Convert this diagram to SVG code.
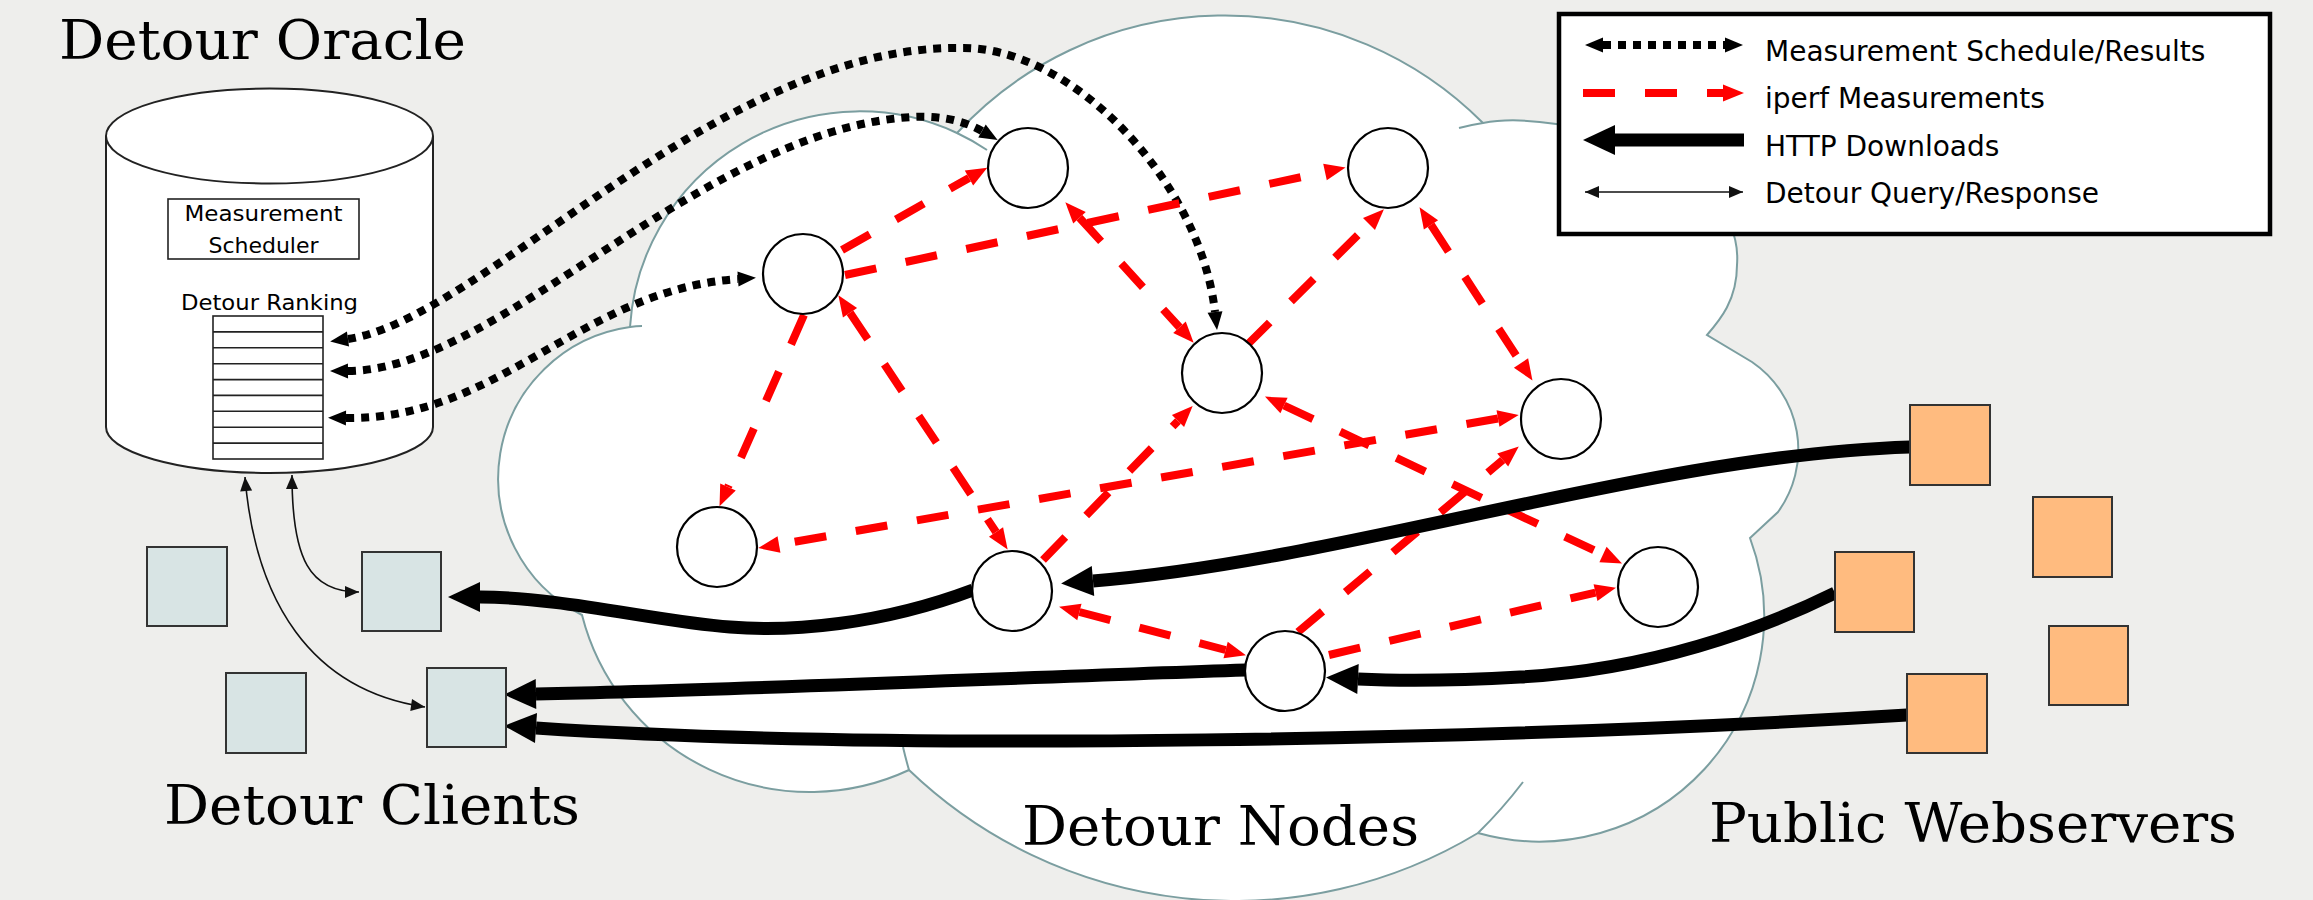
<svg xmlns="http://www.w3.org/2000/svg" width="2313" height="900" viewBox="0 0 2313 900">
<style>
.title{font-family:"DejaVu Serif","Liberation Serif",serif;font-size:55px;fill:#000}
.sans{font-family:"DejaVu Sans","Liberation Sans",sans-serif;fill:#000}
.node{fill:#fff;stroke:#000;stroke-width:2.2}
.client{fill:#d8e4e4;stroke:#333;stroke-width:2}
.server{fill:#ffbb7f;stroke:#333;stroke-width:2}
.dot{fill:none;stroke:#000;stroke-width:8;stroke-dasharray:8 7}
.red{fill:none;stroke:#f00;stroke-width:8;stroke-dasharray:32 30}
.http{fill:none;stroke:#000;stroke-width:13}
.thin{fill:none;stroke:#111;stroke-width:1.6}
.cloud{fill:none;stroke:#7b9ea0;stroke-width:2}
</style>
<defs>
<marker id="mDot" markerUnits="userSpaceOnUse" markerWidth="20" markerHeight="16" refX="0" refY="7.5" orient="auto-start-reverse" overflow="visible"><path d="M0,0 L18,7.5 L0,15 z" fill="#000"/></marker>
<marker id="mRed" markerUnits="userSpaceOnUse" markerWidth="22" markerHeight="18" refX="0" refY="8.5" orient="auto-start-reverse" overflow="visible"><path d="M0,0 L21,8.5 L0,17 z" fill="#f00"/></marker>
<marker id="mHttp" markerUnits="userSpaceOnUse" markerWidth="34" markerHeight="32" refX="0" refY="15" orient="auto-start-reverse" overflow="visible"><path d="M0,0 L32,15 L0,30 z" fill="#000"/></marker>
<marker id="mThin" markerUnits="userSpaceOnUse" markerWidth="16" markerHeight="14" refX="14" refY="6" orient="auto-start-reverse" overflow="visible"><path d="M0,0 L14,6 L0,12 z" fill="#111"/></marker>
</defs>
<rect width="2313" height="900" fill="#eeeeec"/>

<g id="cloud">
<path d="M630,327 A230,230 0 0 1 957,133 A364,364 0 0 1 1483,123 C1560,108 1745,160 1737,265 C1737,300 1720,320 1707,335 L1752,362 A106,106 0 0 1 1778,512 L1750,538 A225,225 0 0 1 1478,833 A470,470 0 0 1 909,770 A235,235 0 0 1 582,615 A153,153 0 0 1 630,327 Z" fill="#fff" stroke="#7b9ea0" stroke-width="2"/>
<path class="cloud" d="M957,133 A230,230 0 0 1 987,150 M1459,128 Q1470,125 1483,123 M1523,782 A470,470 0 0 1 1478,833 M909,770 A470,470 0 0 1 903,747 M630,327 Q636,326 642,326"/>
</g>

<g id="oracle">
<path d="M106,136 L106,427 A163.5,46 0 0 0 433,427 L433,136" fill="#fff" stroke="#222" stroke-width="2"/>
<ellipse cx="269.5" cy="136" rx="163.5" ry="47.5" fill="#fff" stroke="#222" stroke-width="2"/>
<rect x="168" y="199" width="191" height="60" fill="#fff" stroke="#222" stroke-width="1.6"/>
<text class="sans" x="263.5" y="221" font-size="22" text-anchor="middle" textLength="158" lengthAdjust="spacingAndGlyphs">Measurement</text>
<text class="sans" x="263.5" y="253" font-size="22" text-anchor="middle">Scheduler</text>
<text class="sans" x="269.5" y="310" font-size="22" text-anchor="middle" textLength="177" lengthAdjust="spacingAndGlyphs">Detour Ranking</text>
<rect x="213" y="316" width="110" height="143" fill="#fff" stroke="#222" stroke-width="1.6"/>
<path d="M213,331.9H323M213,347.8H323M213,363.7H323M213,379.6H323M213,395.4H323M213,411.3H323M213,427.2H323M213,443.1H323" stroke="#222" stroke-width="1.6"/>
</g>

<g id="connectors">
<path class="dot" d="M348,339 C480,320 720,45 960,48 C1070,45 1200,180 1215,312" marker-start="url(#mDot)" marker-end="url(#mDot)"/>
<path class="dot" d="M348,371 C500,370 700,130 912,117 C945,115 968,123 982,131" marker-start="url(#mDot)" marker-end="url(#mDot)"/>
<path class="dot" d="M346,418 C500,420 580,290 738,279" marker-start="url(#mDot)" marker-end="url(#mDot)"/>

<path class="red" d="M842,250 L969,178" marker-end="url(#mRed)"/>
<path class="red" d="M845,275 L1325,172" marker-end="url(#mRed)"/>
<path class="red" d="M1079.5,217.8 L1179.5,327.2" marker-start="url(#mRed)" marker-end="url(#mRed)"/>
<path class="red" d="M1247,345 L1369,224" marker-end="url(#mRed)"/>
<path class="red" d="M1431,224.8 L1521,363" marker-start="url(#mRed)" marker-end="url(#mRed)"/>
<path class="red" d="M804,315 L728,487" marker-end="url(#mRed)"/>
<path class="red" d="M850,312.7 L996,532" marker-start="url(#mRed)" marker-end="url(#mRed)"/>
<path class="red" d="M1498,418.5 L779,544.5" marker-start="url(#mRed)" marker-end="url(#mRed)"/>
<path class="red" d="M1284,405.5 L1603,554.5" marker-start="url(#mRed)" marker-end="url(#mRed)"/>
<path class="red" d="M1043,560 L1178,421" marker-end="url(#mRed)"/>
<path class="red" d="M1079.4,612 L1225.6,650" marker-start="url(#mRed)" marker-end="url(#mRed)"/>
<path class="red" d="M1329,655 L1595.5,592.6" marker-end="url(#mRed)"/>
<path class="red" d="M1298,632 L1502.7,460" marker-end="url(#mRed)"/>

<path class="http" d="M1910,447 C1650,455 1350,560 1093,581" marker-end="url(#mHttp)"/>
<path class="http" d="M973,590 C880,625 790,632 730,627 C660,622 560,597 480,597" marker-end="url(#mHttp)"/>
<path class="http" d="M1835,593 C1760,630 1650,670 1520,677 C1450,681 1400,681 1358,679" marker-end="url(#mHttp)"/>
<path class="http" d="M1246,670 C1000,678 750,690 536,694" marker-end="url(#mHttp)"/>
<path class="http" d="M1907,715 C1500,740 900,752 536,728" marker-end="url(#mHttp)"/>

<path class="thin" d="M245,477 C255,600 310,690 425,707" marker-start="url(#mThin)" marker-end="url(#mThin)"/>
<path class="thin" d="M292,475 C292,560 310,592 359,592" marker-start="url(#mThin)" marker-end="url(#mThin)"/>
</g>

<g id="n1"><circle class="node" cx="1028" cy="168" r="40"/></g>
<g id="n2"><circle class="node" cx="803" cy="274" r="40"/></g>
<g id="n3"><circle class="node" cx="1388" cy="168" r="40"/></g>
<g id="n4"><circle class="node" cx="1222" cy="373" r="40"/></g>
<g id="n5"><circle class="node" cx="1561" cy="419" r="40"/></g>
<g id="n6"><circle class="node" cx="717" cy="547" r="40"/></g>
<g id="n7"><circle class="node" cx="1012" cy="591" r="40"/></g>
<g id="n8"><circle class="node" cx="1658" cy="587" r="40"/></g>
<g id="n9"><circle class="node" cx="1285" cy="671" r="40"/></g>

<g id="client1"><rect class="client" x="147" y="547" width="80" height="79"/></g>
<g id="client2"><rect class="client" x="362" y="552" width="79" height="79"/></g>
<g id="client3"><rect class="client" x="226" y="673" width="80" height="80"/></g>
<g id="client4"><rect class="client" x="427" y="668" width="79" height="79"/></g>

<g id="server1"><rect class="server" x="1910" y="405" width="80" height="80"/></g>
<g id="server2"><rect class="server" x="2033" y="497" width="79" height="80"/></g>
<g id="server3"><rect class="server" x="1835" y="552" width="79" height="80"/></g>
<g id="server4"><rect class="server" x="2049" y="626" width="79" height="79"/></g>
<g id="server5"><rect class="server" x="1907" y="674" width="80" height="79"/></g>

<g id="legend">
<rect x="1559" y="14" width="711" height="220" fill="#fff" stroke="#000" stroke-width="4.5"/>
<path class="dot" d="M1603,45 L1725,45" marker-start="url(#mDot)" marker-end="url(#mDot)"/>
<path class="red" d="M1583,93 L1723,93" stroke-dasharray="32 32" marker-end="url(#mRed)"/>
<path class="http" d="M1744,140 L1615,140" marker-end="url(#mHttp)"/>
<path class="thin" d="M1585,192 L1743,192" stroke-width="2" marker-start="url(#mThin)" marker-end="url(#mThin)"/>
<text class="sans" x="1765" y="61" font-size="28">Measurement Schedule/Results</text>
<text class="sans" x="1765" y="108" font-size="28">iperf Measurements</text>
<text class="sans" x="1765" y="156" font-size="28">HTTP Downloads</text>
<text class="sans" x="1765" y="203" font-size="28">Detour Query/Response</text>
</g>

<g id="labels">
<text class="title" x="59" y="59" font-size="52" textLength="407" lengthAdjust="spacingAndGlyphs">Detour Oracle</text>
<text class="title" x="164" y="824" textLength="416" lengthAdjust="spacingAndGlyphs">Detour Clients</text>
<text class="title" x="1022" y="845" textLength="397" lengthAdjust="spacingAndGlyphs">Detour Nodes</text>
<text class="title" x="1709" y="842" textLength="528" lengthAdjust="spacingAndGlyphs">Public Webservers</text>
</g>
</svg>
